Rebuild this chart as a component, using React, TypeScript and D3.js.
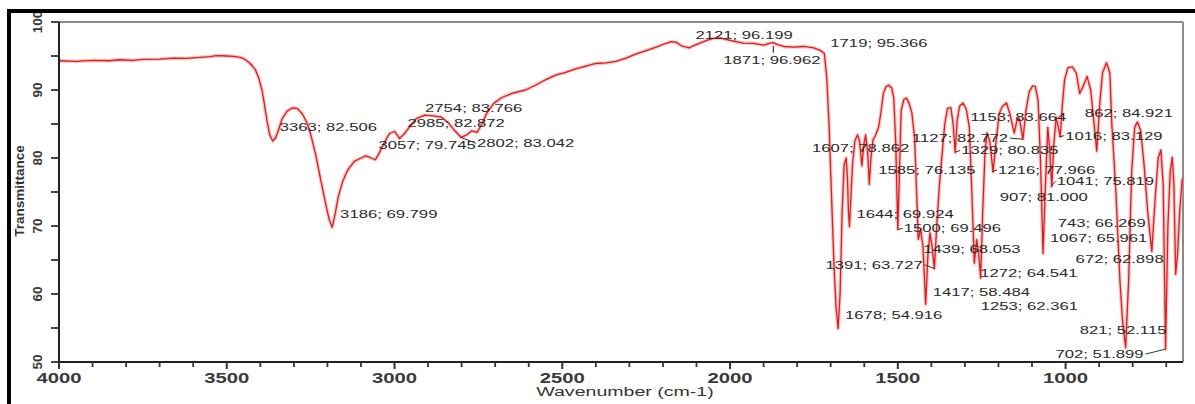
import React, { useEffect, useRef } from 'react';
import * as d3 from 'd3';

// Spectrum (wavenumber cm-1, % transmittance)
const wavenumbers = [
  4000, 3950, 3900, 3850, 3820, 3780, 3750, 3700, 3660, 3620, 3580, 3550, 3530, 3500, 3480, 3460, 3445, 3430, 3415, 3405,
  3395, 3388, 3380, 3372, 3363, 3355, 3345, 3335, 3320, 3305, 3290, 3275, 3262, 3250, 3235, 3220, 3205, 3195, 3186, 3178,
  3168, 3155, 3140, 3120, 3100, 3085, 3070, 3057, 3045, 3030, 3015, 3000, 2985, 2970, 2955, 2935, 2910, 2885, 2860, 2840,
  2820, 2802, 2785, 2770, 2754, 2740, 2725, 2705, 2680, 2650, 2610, 2580, 2550, 2520, 2490, 2460, 2430, 2400, 2370, 2340,
  2310, 2280, 2250, 2220, 2195, 2175, 2160, 2145, 2130, 2121, 2110, 2090, 2070, 2050, 2030, 2010, 1990, 1960, 1930, 1900,
  1880, 1871, 1860, 1840, 1810, 1780, 1750, 1730, 1719, 1712, 1705, 1698, 1690, 1684, 1678, 1672, 1666, 1660, 1654, 1650,
  1647, 1644, 1640, 1635, 1628, 1620, 1614, 1607, 1601, 1596, 1590, 1585, 1580, 1574, 1565, 1557, 1550, 1543, 1535, 1527,
  1518, 1512, 1506, 1500, 1495, 1490, 1482, 1474, 1466, 1458, 1450, 1444, 1439, 1432, 1425, 1417, 1410, 1404, 1398, 1391,
  1384, 1376, 1368, 1360, 1352, 1342, 1335, 1329, 1323, 1316, 1306, 1296, 1287, 1280, 1272, 1265, 1259, 1253, 1247, 1240,
  1234, 1226, 1216, 1208, 1198, 1188, 1176, 1166, 1153, 1145, 1138, 1127, 1118, 1108, 1098, 1090, 1082, 1075, 1067, 1060,
  1053, 1047, 1041, 1035, 1028, 1016, 1010, 1003, 993, 980, 968, 958, 948, 936, 925, 915, 907, 898, 890, 878,
  868, 862, 850, 838, 830, 821, 812, 803, 794, 786, 776, 766, 755, 743, 733, 724, 716, 709, 702, 695,
  688, 682, 677, 672, 666, 660, 652,
];
const transmittance = [
  94.3, 94.2, 94.35, 94.3, 94.45, 94.35, 94.5, 94.55, 94.7, 94.65, 94.8, 94.9, 95.05, 95.0, 94.95, 94.8, 94.5, 93.9, 93.0, 91.8,
  90.0, 88.0, 85.5, 83.4, 82.506, 82.9, 84.2, 85.8, 86.9, 87.35, 87.3, 86.5, 85.3, 83.5, 80.5, 76.8, 73.2, 71.0, 69.799, 71.5,
  74.2, 76.5, 78.2, 79.5, 80.0, 80.3, 80.0, 79.745, 80.8, 82.3, 83.6, 83.9, 82.872, 83.6, 84.6, 85.8, 86.3, 86.2, 86.0, 85.2,
  84.0, 83.042, 83.4, 84.0, 83.766, 85.0, 86.6, 88.0, 88.9, 89.5, 90.0, 90.7, 91.5, 92.2, 92.6, 93.1, 93.5, 93.9, 94.0, 94.2,
  94.7, 95.3, 95.8, 96.3, 96.8, 97.1, 97.0, 96.5, 96.3, 96.199, 96.5, 96.9, 97.3, 97.6, 97.65, 97.4, 97.2, 96.9, 96.85, 96.6,
  96.9, 96.962, 96.7, 96.4, 96.3, 96.4, 96.2, 95.8, 95.366, 92.0, 85.0, 75.0, 64.0, 58.0, 54.916, 60.0, 72.0, 79.0, 80.0, 77.0,
  72.0, 69.924, 74.0, 79.0, 82.5, 83.4, 82.5, 78.862, 82.0, 83.4, 81.0, 76.135, 80.0, 82.6, 83.5, 84.6, 86.8, 89.5, 90.5, 90.7,
  90.3, 88.8, 82.0, 69.496, 78.0, 87.0, 88.6, 88.8, 88.0, 86.6, 83.0, 75.0, 68.053, 69.5, 67.0, 58.484, 66.0, 69.0, 67.0, 63.727,
  70.0, 76.0, 80.5, 85.0, 87.3, 87.4, 85.0, 80.835, 85.5, 87.6, 88.1, 87.2, 84.6, 76.0, 64.541, 68.0, 66.0, 62.361, 72.0, 81.0,
  83.7, 82.5, 77.966, 82.0, 86.5, 87.6, 88.1, 86.5, 83.664, 85.5, 85.9, 82.772, 87.0, 89.8, 90.6, 90.5, 88.5, 80.0, 65.961, 76.0,
  84.5, 81.0, 75.819, 82.0, 86.0, 83.129, 87.5, 91.5, 93.3, 93.4, 92.5, 89.5, 90.5, 92.0, 90.0, 85.0, 81.0, 88.0, 92.5, 94.0,
  92.5, 84.921, 75.0, 62.0, 56.0, 52.115, 62.0, 78.0, 84.5, 85.3, 84.0, 79.0, 72.0, 66.269, 74.0, 80.0, 81.2, 76.0, 51.899, 70.0,
  78.0, 80.1, 76.0, 62.898, 66.0, 72.0, 77.0,
];

// Peak picks shown as labels
const peakWavenumbers = [3363, 3186, 3057, 2985, 2754, 2802, 2121, 1871, 1719, 1678, 1644, 1607, 1585, 1500, 1439, 1417,
  1391, 1329, 1272, 1253, 1216, 1153, 1127, 1067, 1041, 1016, 907, 862, 821, 743, 702, 672];
const peakValues = [82.506, 69.799, 79.745, 82.872, 83.766, 83.042, 96.199, 96.962, 95.366, 54.916, 69.924, 78.862, 76.135,
  69.496, 68.053, 58.484, 63.727, 80.835, 64.541, 62.361, 77.966, 83.664, 82.772, 65.961, 75.819, 83.129, 81.0, 84.921,
  52.115, 66.269, 51.899, 62.898];

// label placement relative to the peak (px): [dx to label start, dy to label middle, leader kind]
const labelLayout: [number, number, string][] = [
  [7, -14, ''], [8, -13, ''], [3, -15, ''], [8, -15, ''], [-52, -24, ''], [16, 6, 'h'],
  [6, -13, ''], [-50, 17, 'v'], [6, -11, ''], [7, -14, ''], [7, -13, ''], [-50, -18, ''],
  [9, -14, ''], [6, -1, 'h'], [5, 10, ''], [7, -12, ''], [-109, -4, 'h'], [6, -2, 'h'],
  [6, 10, ''], [0, 28, ''], [5, -2, 'h'], [-44, -16, ''], [-111, -1, 'h'], [7, -15, ''],
  [5, -5, 'h'], [5, -1, 'h'], [-97, 46, ''], [-27, -12, ''], [-46, -18, ''], [-94, -28, ''],
  [-110, 5, 'h'], [-100, -15, ''],
];

const xMajorTicks = [4000, 3500, 3000, 2500, 2000, 1500, 1000];
const xMinorTicks = [3900, 3800, 3700, 3600, 3400, 3300, 3200, 3100, 2900, 2800, 2700, 2600, 2400, 2300, 2200, 2100,
  1900, 1800, 1700, 1600, 1400, 1300, 1200, 1100, 900, 800, 700];
const yMajorTicks = [50, 60, 70, 80, 90, 100];
const yMinorTicks = [55, 65, 75, 85, 95];

const W = 1195;
const H = 404;
const FONT = '"Liberation Sans", Arial, Helvetica, sans-serif';
const SX = 1.45; // horizontal stretch of the source picture

export default function App() {
  const ref = useRef<SVGSVGElement | null>(null);

  useEffect(() => {
    const svg = d3.select(ref.current);
    svg.selectAll('*').remove();

    const left = 59, right = 1183, top = 22, bottom = 362;
    const x = d3.scaleLinear().domain([4000, 650]).range([left, right]);
    const y = d3.scaleLinear().domain([50, 100]).range([bottom, top]);

    svg.append('rect').attr('width', W).attr('height', H).attr('fill', '#fff');

    // plot frame (top/right grey)
    svg.append('line').attr('x1', left).attr('x2', right).attr('y1', top).attr('y2', top)
      .attr('stroke', '#8a8a8a').attr('stroke-width', 2);
    svg.append('line').attr('x1', right).attr('x2', right).attr('y1', top).attr('y2', bottom)
      .attr('stroke', '#8a8a8a').attr('stroke-width', 2);

    // spectrum
    const pts = wavenumbers.map((w, i) => [w, transmittance[i]] as [number, number]);
    const line = d3.line<[number, number]>().x(d => x(d[0])).y(d => y(d[1]));
    const g = svg.append('g');
    g.append('path').attr('d', line(pts) || '').attr('fill', 'none')
      .attr('stroke', '#f09a9a').attr('stroke-width', 3.8).attr('stroke-opacity', 0.55).attr('stroke-linejoin', 'round');
    g.append('path').attr('d', line(pts) || '').attr('fill', 'none')
      .attr('stroke', '#d91f1f').attr('stroke-width', 1.3).attr('stroke-linejoin', 'round');

    // peak labels
    const lab = svg.append('g');
    peakWavenumbers.forEach((w, i) => {
      const px = x(w), py = y(peakValues[i]);
      const [dx, dy, leader] = labelLayout[i];
      const tx = px + dx, ty = py + dy;
      const t = lab.append('text')
        .attr('transform', `translate(${tx},${ty}) scale(${SX},1)`)
        .attr('dy', '0.35em')
        .attr('font-family', FONT).attr('font-size', 11.5).attr('fill', '#2a2a2a')
        .text(`${w}; ${peakValues[i].toFixed(3)}`);
      if (leader === 'v') {
        lab.append('line').attr('x1', px).attr('x2', px).attr('y1', py + 3).attr('y2', py + 10)
          .attr('stroke', '#333').attr('stroke-width', 1.2);
      } else if (leader === 'h') {
        const node = t.node() as SVGTextElement;
        const wText = node.getComputedTextLength() * SX;
        if (px > tx + wText) {
          lab.append('line').attr('x1', tx + wText + 2).attr('x2', px).attr('y1', ty).attr('y2', py)
            .attr('stroke', '#333').attr('stroke-width', 1);
        } else {
          lab.append('line').attr('x1', Math.min(px, tx - 6)).attr('x2', tx - 1).attr('y1', py).attr('y2', ty)
            .attr('stroke', '#333').attr('stroke-width', 1);
        }
      }
    });

    // axes
    const ax = svg.append('g');
    ax.append('line').attr('x1', left).attr('x2', right).attr('y1', bottom).attr('y2', bottom)
      .attr('stroke', '#222').attr('stroke-width', 2);
    ax.append('line').attr('x1', left).attr('x2', left).attr('y1', top).attr('y2', bottom + 1)
      .attr('stroke', '#222').attr('stroke-width', 2);

    xMinorTicks.forEach(v => {
      ax.append('line').attr('x1', x(v)).attr('x2', x(v)).attr('y1', bottom).attr('y2', bottom + 5)
        .attr('stroke', '#333').attr('stroke-width', 1.8);
    });
    xMajorTicks.forEach(v => {
      ax.append('line').attr('x1', x(v)).attr('x2', x(v)).attr('y1', bottom).attr('y2', bottom + 7)
        .attr('stroke', '#333').attr('stroke-width', 2);
      ax.append('text')
        .attr('transform', `translate(${x(v)},${bottom + 21}) scale(${SX},1)`)
        .attr('text-anchor', 'middle').attr('font-family', FONT).attr('font-size', 14)
        .attr('font-weight', 'bold').attr('fill', '#3a3a3a').text(String(v));
    });
    [...yMajorTicks, ...yMinorTicks].forEach(v => {
      ax.append('line').attr('x1', left - 8).attr('x2', left).attr('y1', y(v)).attr('y2', y(v))
        .attr('stroke', '#333').attr('stroke-width', 1.8);
    });
    yMajorTicks.forEach(v => {
      ax.append('text')
        .attr('transform', `translate(${left - 17},${y(v)}) rotate(-90)`)
        .attr('text-anchor', 'middle').attr('font-family', FONT).attr('font-size', 13.5)
        .attr('font-weight', 'bold').attr('fill', '#3a3a3a').text(String(v));
    });

    // axis titles
    svg.append('text')
      .attr('transform', `translate(${(left + right) / 2 + 4},${H - 8}) scale(${SX},1)`)
      .attr('text-anchor', 'middle').attr('font-family', FONT).attr('font-size', 13.5)
      .attr('fill', '#333').text('Wavenumber (cm-1)');
    svg.append('text')
      .attr('transform', `translate(24,191) rotate(-90)`)
      .attr('text-anchor', 'middle').attr('font-family', FONT).attr('font-size', 13.5)
      .attr('font-weight', 'bold').attr('fill', '#333').text('Transmittance');

    // outer black border (top and left)
    svg.append('rect').attr('x', 7).attr('y', 9).attr('width', W - 7).attr('height', 4).attr('fill', '#000');
    svg.append('rect').attr('x', 7).attr('y', 9).attr('width', 4).attr('height', H - 9).attr('fill', '#000');
  }, []);

  return (
    <svg ref={ref} width={W} height={H}
      style={{ position: 'absolute', left: 0, top: 0, display: 'block' }} />
  );
}
